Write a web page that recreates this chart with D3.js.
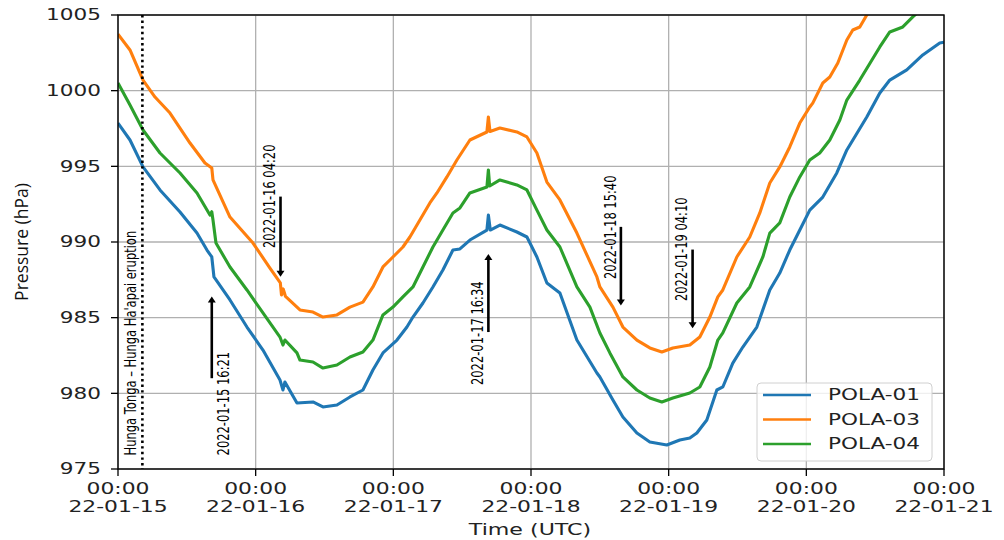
<!DOCTYPE html>
<html>
<head>
<meta charset="utf-8">
<script src="https://cdn.jsdelivr.net/npm/d3@7"></script>
<style>
  html, body { margin: 0; padding: 0; background: #fff; }
  svg { display: block; }
</style>
</head>
<body>
<svg id="chart" width="1004" height="540"></svg>
<script>
// ---- data: hours since 2022-01-15 00:00 UTC, pressure (hPa) ----
const series = ["POLA-01", "POLA-03", "POLA-04"];
const colors = ["#1f77b4", "#ff7f0e", "#2ca02c"];

const pola01Hours = [0, 2.09, 4.36, 7.32, 10.81, 13.77, 15.51, 16.35, 16.73, 19.52, 22.48, 25.27, 28.24, 28.76, 29.1, 31.2, 33.99, 35.73, 38.17, 40.44, 42.7, 44.44, 46.19, 48.63, 50.37, 51.42, 53.16, 54.9, 56.64, 58.39, 59.61, 61.35, 64.31, 64.57, 64.9, 66.58, 69.54, 71.29, 73.03, 74.77, 77.04, 80.0, 83.49, 84.01, 86.28, 88.02, 90.46, 92.72, 95.68, 97.95, 99.69, 100.91, 102.65, 104.4, 105.44, 107.18, 108.93, 111.37, 113.63, 115.37, 117.11, 118.86, 120.6, 122.87, 125.31, 127.06, 130.54, 132.81, 134.55, 137.51, 140.3, 143.26, 144];
const pola01Values = [997.86, 996.74, 994.96, 993.44, 991.98, 990.59, 989.47, 989.01, 987.69, 986.17, 984.38, 982.86, 980.88, 980.22, 980.75, 979.36, 979.43, 979.1, 979.23, 979.76, 980.22, 981.54, 982.67, 983.52, 984.38, 985.04, 985.97, 987.03, 988.15, 989.47, 989.54, 990.13, 990.79, 991.78, 990.79, 991.12, 990.66, 990.33, 989.01, 987.29, 986.63, 983.52, 981.34, 981.08, 979.56, 978.44, 977.38, 976.78, 976.59, 976.92, 977.05, 977.38, 978.24, 980.22, 980.42, 982.0, 983.06, 984.38, 986.83, 987.95, 989.47, 990.79, 992.11, 992.97, 994.56, 996.08, 998.26, 999.85, 1000.7, 1001.37, 1002.36, 1003.15, 1003.2];

const pola03Hours = [0, 2.09, 4.36, 6.45, 9.06, 12.55, 15.16, 16.35, 16.56, 19.52, 23.53, 26.49, 28.3, 28.5, 28.8, 29.2, 31.72, 33.99, 35.73, 38.17, 40.44, 42.7, 44.44, 46.19, 47.93, 49.67, 50.89, 52.63, 54.37, 55.6, 57.34, 59.08, 61.35, 64.31, 64.57, 64.85, 66.58, 69.54, 71.29, 73.03, 74.77, 77.04, 80.0, 83.49, 84.01, 86.28, 88.02, 90.46, 92.72, 94.81, 96.73, 99.69, 101.43, 103.18, 104.57, 105.44, 107.88, 110.14, 111.89, 113.63, 115.37, 117.11, 118.86, 120.6, 121.12, 122.87, 124.09, 125.49, 127.06, 128.1, 129.32, 130.54, 131.9];
const pola03Values = [1003.74, 1002.69, 1000.7, 999.58, 998.52, 996.54, 995.22, 994.89, 994.1, 991.65, 989.93, 988.28, 987.3, 986.5, 986.9, 986.4, 985.51, 985.37, 985.04, 985.18, 985.7, 986.03, 987.03, 988.35, 989.01, 989.67, 990.33, 991.45, 992.58, 993.24, 994.3, 995.42, 996.74, 997.27, 998.26, 997.3, 997.53, 997.27, 996.94, 995.88, 993.96, 992.78, 990.59, 987.69, 987.03, 985.7, 984.38, 983.52, 983.0, 982.73, 983.0, 983.19, 983.72, 985.04, 986.37, 986.83, 989.01, 990.33, 991.92, 993.9, 994.96, 996.28, 997.86, 998.92, 999.18, 1000.51, 1000.9, 1001.83, 1003.35, 1004.01, 1004.21, 1005.0, 1005.66];

const pola04Hours = [0, 2.09, 4.36, 7.32, 10.81, 13.77, 16.03, 16.35, 16.56, 17.08, 19.52, 22.48, 25.27, 28.24, 28.76, 29.1, 31.2, 31.72, 33.99, 35.73, 38.17, 40.44, 42.7, 44.44, 46.19, 47.93, 49.67, 51.42, 53.16, 54.9, 56.64, 58.39, 59.61, 61.35, 64.31, 64.57, 64.8, 66.58, 69.54, 71.29, 73.03, 74.77, 77.04, 80.0, 82.27, 84.01, 85.75, 88.02, 90.46, 92.72, 94.81, 96.73, 99.69, 101.43, 103.18, 104.57, 105.44, 107.88, 110.14, 112.42, 113.63, 115.37, 117.11, 118.86, 120.6, 122.34, 124.09, 125.84, 127.06, 129.32, 132.81, 134.55, 136.82, 138.56, 139.8];
const pola04Values = [1000.51, 999.05, 997.4, 995.88, 994.56, 993.24, 991.78, 992.0, 991.45, 989.93, 988.35, 986.83, 985.31, 983.72, 983.19, 983.52, 982.67, 982.2, 982.07, 981.67, 981.87, 982.4, 982.73, 983.52, 985.18, 985.7, 986.37, 987.03, 988.35, 989.67, 990.79, 991.92, 992.25, 993.24, 993.63, 994.76, 993.7, 994.1, 993.77, 993.44, 992.11, 990.79, 989.67, 987.03, 985.7, 983.99, 982.67, 981.08, 980.22, 979.69, 979.43, 979.69, 980.02, 980.42, 981.74, 983.52, 983.99, 985.97, 987.03, 989.01, 990.59, 991.26, 992.97, 994.3, 995.42, 995.88, 996.74, 998.06, 999.38, 1000.7, 1002.89, 1003.88, 1004.21, 1004.87, 1005.3];

const yTicks = [975, 980, 985, 990, 995, 1000, 1005];
const xTickDays = ["2022-01-15", "2022-01-16", "2022-01-17", "2022-01-18", "2022-01-19", "2022-01-20", "2022-01-21"];

// eruption time (hours) and label
const eruptionHour = 4.25;
const eruptionLabel = "Hunga Tonga \u2013 Hunga Ha'apai eruption";

// annotations: time label, arrow hour, arrow tail/head pressure, text start pressure, side
const annLabels = ["2022-01-15 16:21", "2022-01-16 04:20", "2022-01-17 16:34", "2022-01-18 15:40", "2022-01-19 04:10"];
const annHours = [16.35, 28.33, 64.57, 87.67, 100.17];
const annTail = [981.0, 993.0, 984.05, 991.0, 989.5];
const annHead = [986.4, 987.7, 989.2, 985.8, 984.3];
const annTextStart = [975.9, 989.6, 980.55, 987.55, 986.1];
const annTextSide = [1, -1, -1, -1, -1];

// ---- layout ----
const svg = d3.select("#chart");
const L = 118, R = 944, T = 15, B = 469;
const SX = 1.42; // horizontal stretch of text in the reference
const base = Date.UTC(2022, 0, 15);
const toDate = h => new Date(base + h * 3600e3);

const x = d3.scaleUtc().domain([new Date(base), toDate(144)]).range([L, R]);
const y = d3.scaleLinear().domain([975, 1005]).range([B, T]);

const FONT = "'DejaVu Sans', sans-serif";

// clip
svg.append("defs").append("clipPath").attr("id", "clip")
  .append("rect").attr("x", L).attr("y", T).attr("width", R - L).attr("height", B - T);

// grid
const xTickDates = xTickDays.map(s => new Date(s + "T00:00:00Z"));
const grid = svg.append("g");
grid.selectAll("line.gx").data(xTickDates).enter().append("line")
  .attr("x1", d => x(d)).attr("x2", d => x(d)).attr("y1", T).attr("y2", B)
  .attr("stroke", "#b0b0b0").attr("stroke-width", 1.3);
grid.selectAll("line.gy").data(yTicks).enter().append("line")
  .attr("x1", L).attr("x2", R).attr("y1", d => y(d)).attr("y2", d => y(d))
  .attr("stroke", "#b0b0b0").attr("stroke-width", 1.3);

// lines
const hoursArr = [pola01Hours, pola03Hours, pola04Hours];
const valsArr = [pola01Values, pola03Values, pola04Values];
const line = d3.line().x(d => x(d[0])).y(d => y(d[1]));
const plot = svg.append("g").attr("clip-path", "url(#clip)");
series.forEach((s, i) => {
  const pts = hoursArr[i].map((h, k) => [toDate(h), valsArr[i][k]]);
  plot.append("path").datum(pts)
    .attr("fill", "none").attr("stroke", colors[i]).attr("stroke-width", 3.1)
    .attr("stroke-linejoin", "round").attr("d", line);
});

// eruption dotted line
plot.append("line")
  .attr("x1", x(toDate(eruptionHour))).attr("x2", x(toDate(eruptionHour)))
  .attr("y1", T).attr("y2", B)
  .attr("stroke", "#000").attr("stroke-width", 2.6).attr("stroke-dasharray", "2.4,3.2");

function vtext(cx, yStart, str, size) {
  svg.append("text")
    .attr("transform", `translate(${cx},${yStart}) scale(${SX},1) rotate(-90)`)
    .attr("dy", "0.36em")
    .attr("font-family", FONT).attr("font-size", size)
    .attr("fill", "#000").text(str);
}
vtext(x(toDate(eruptionHour)) - 12.5, y(975.9), eruptionLabel, 11.5);

// arrows
annLabels.forEach((lab, i) => {
  const ax = x(toDate(annHours[i]));
  const yt = y(annTail[i]), yh = y(annHead[i]);
  const dir = yh < yt ? -1 : 1;
  svg.append("line").attr("x1", ax).attr("x2", ax).attr("y1", yt).attr("y2", yh - dir * 5)
    .attr("stroke", "#000").attr("stroke-width", 2.6);
  svg.append("path")
    .attr("d", `M${ax - 4},${yh - dir * 6} L${ax + 4},${yh - dir * 6} L${ax},${yh} Z`)
    .attr("fill", "#000");
  vtext(ax + annTextSide[i] * 11, y(annTextStart[i]), lab, 11.5);
});

// spines
svg.append("rect").attr("x", L).attr("y", T).attr("width", R - L).attr("height", B - T)
  .attr("fill", "none").attr("stroke", "#000").attr("stroke-width", 1.4);

// y ticks
const yt = svg.append("g");
yTicks.forEach(v => {
  yt.append("line").attr("x1", L - 7).attr("x2", L).attr("y1", y(v)).attr("y2", y(v))
    .attr("stroke", "#000").attr("stroke-width", 1.3);
  yt.append("text").attr("transform", `translate(${L - 17},${y(v)}) scale(${SX},1)`)
    .attr("text-anchor", "end").attr("dy", "0.36em")
    .attr("font-family", FONT).attr("font-size", 15.2).attr("fill", "#222").text(v);
});

// x ticks
const fmtT = d3.utcFormat("%H:%M"), fmtD = d3.utcFormat("%y-%m-%d");
const xt = svg.append("g");
xTickDates.forEach(d => {
  const px = x(d);
  xt.append("line").attr("x1", px).attr("x2", px).attr("y1", B).attr("y2", B + 7)
    .attr("stroke", "#000").attr("stroke-width", 1.3);
  xt.append("text").attr("transform", `translate(${px},${488}) scale(${SX},1)`)
    .attr("text-anchor", "middle").attr("dy", "0.36em")
    .attr("font-family", FONT).attr("font-size", 15.4).attr("fill", "#222").text(fmtT(d));
  xt.append("text").attr("transform", `translate(${px},${506}) scale(${SX},1)`)
    .attr("text-anchor", "middle").attr("dy", "0.36em")
    .attr("font-family", FONT).attr("font-size", 15.4).attr("fill", "#222").text(fmtD(d));
});

// axis labels
svg.append("text").attr("transform", `translate(530,529) scale(${SX},1)`)
  .attr("text-anchor", "middle").attr("dy", "0.36em")
  .attr("font-family", FONT).attr("font-size", 15.6).attr("fill", "#222").text("Time (UTC)");
svg.append("text").attr("transform", `translate(22,242) rotate(-90)`)
  .attr("text-anchor", "middle").attr("dy", "0.36em")
  .attr("font-family", "'Open Sans', sans-serif").attr("font-size", 17.5).attr("fill", "#111")
  .text("Pressure (hPa)");

// legend
const lg = svg.append("g");
lg.append("rect").attr("x", 757).attr("y", 383).attr("width", 175).attr("height", 78)
  .attr("rx", 4).attr("fill", "#fff").attr("fill-opacity", 0.8)
  .attr("stroke", "#d0d0d0").attr("stroke-width", 1);
series.forEach((s, i) => {
  const ly = 395 + i * 24.5;
  lg.append("line").attr("x1", 763).attr("x2", 811).attr("y1", ly).attr("y2", ly)
    .attr("stroke", colors[i]).attr("stroke-width", 2.6);
  lg.append("text").attr("transform", `translate(828,${ly}) scale(${SX},1)`)
    .attr("dy", "0.36em").attr("font-family", FONT).attr("font-size", 15.2)
    .attr("fill", "#222").text(s);
});
</script>
</body>
</html>
